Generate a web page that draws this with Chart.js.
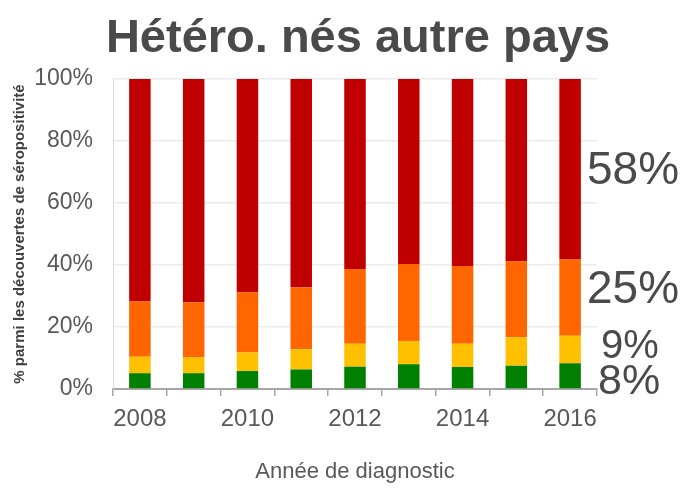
<!DOCTYPE html>
<html>
<head>
<meta charset="utf-8">
<script src="https://cdn.jsdelivr.net/npm/chart.js@4/dist/chart.umd.min.js"></script>
<style>
  body { margin: 0; background: #fff; }
  #wrap { width: 683px; height: 492px; }
</style>
</head>
<body>
<div id="wrap"><canvas id="chart" width="683" height="492"></canvas></div>
<script>
// données (% par année)
const years = ['2008', '2009', '2010', '2011', '2012', '2013', '2014', '2015', '2016'];
const green = [5.1, 5.1, 5.8, 6.3, 7.2, 8.0, 7.1, 7.5, 8.3];
const yellow = [5.3, 5.1, 6.0, 6.5, 7.4, 7.5, 7.5, 9.2, 8.9];
const orange = [17.8, 17.8, 19.4, 20.0, 24.1, 24.8, 25.1, 24.5, 24.6];
const red = [71.8, 72.0, 68.8, 67.2, 61.3, 59.7, 60.3, 58.8, 58.2];
const yTicks = [0, 20, 40, 60, 80, 100];

const FONT = "'Liberation Sans', Arial, sans-serif";
const colors = ['#008000', '#ffc000', '#ff6600', '#c00000'];

// titre + étiquettes de droite (dernière année)
const extras = {
  id: 'extras',
  afterDatasetsDraw(chart) {
    const ctx = chart.ctx;
    const area = chart.chartArea;
    const y = chart.scales.y;
    ctx.save();
    ctx.fillStyle = '#4a4a4a';
    ctx.font = 'bold 47px ' + FONT;
    ctx.textAlign = 'center';
    ctx.textBaseline = 'alphabetic';
    ctx.fillText('Hétéro. nés autre pays', (area.left + area.right) / 2 + 3, 52);

    const last = years.length - 1;
    const series = [green, yellow, orange, red];
    const sizes = [43, 40, 46, 46];
    const dx = [1, 4, -10, -10];
    const dy = [6, -3, -7, 2];
    let base = 0;
    ctx.textAlign = 'left';
    ctx.textBaseline = 'middle';
    series.forEach((s, i) => {
      const v = s[last];
      const mid = y.getPixelForValue(base + v / 2);
      base += v;
      ctx.font = sizes[i] + 'px ' + FONT;
      ctx.fillText(Math.round(v) + '%', area.right + dx[i], mid + dy[i]);
    });
    ctx.restore();
  }
};

new Chart(document.getElementById('chart'), {
  type: 'bar',
  data: {
    labels: years,
    datasets: [
      { label: 'vert', data: green, backgroundColor: colors[0] },
      { label: 'jaune', data: yellow, backgroundColor: colors[1] },
      { label: 'orange', data: orange, backgroundColor: colors[2] },
      { label: 'rouge', data: red, backgroundColor: colors[3] }
    ]
  },
  options: {
    responsive: false,
    animation: false,
    layout: { padding: { top: 79, right: 86, left: 0, bottom: 0 } },
    datasets: { bar: { categoryPercentage: 1, barPercentage: 0.4 } },
    plugins: {
      legend: { display: false },
      title: { display: false },
      tooltip: { enabled: false }
    },
    scales: {
      x: {
        stacked: true,
        afterFit(scale) { scale.height = 103; },
        grid: { drawOnChartArea: false, color: '#a6a6a6', tickLength: 7, lineWidth: 1.5 },
        border: { color: '#a6a6a6', width: 2 },
        ticks: {
          autoSkip: false,
          maxRotation: 0,
          padding: 9,
          color: '#595959',
          font: { family: FONT, size: 24 },
          callback(v, i) { return i % 2 === 0 ? years[i] : ''; }
        },
        title: {
          display: true,
          text: 'Année de diagnostic',
          color: '#595959',
          font: { family: FONT, size: 22 },
          padding: { top: 0, bottom: 7 }
        }
      },
      y: {
        stacked: true,
        min: 0,
        max: 100,
        afterFit(scale) { scale.width = 113; },
        afterBuildTicks(scale) { scale.ticks = yTicks.map(v => ({ value: v })); },
        grid: { color: '#ebebeb', lineWidth: 1.5, drawTicks: false, tickLength: 0 },
        border: { color: '#d9d9d9', width: 1 },
        ticks: {
          padding: 20,
          color: '#595959',
          font: { family: FONT, size: 23 },
          callback(v) { return v + '%'; }
        },
        title: {
          display: true,
          text: '% parmi les découvertes de séropositivité',
          color: '#404040',
          font: { family: FONT, size: 15, weight: 'bold' },
          padding: { top: 11, bottom: 0 }
        }
      }
    }
  },
  plugins: [extras]
});
</script>
</body>
</html>
